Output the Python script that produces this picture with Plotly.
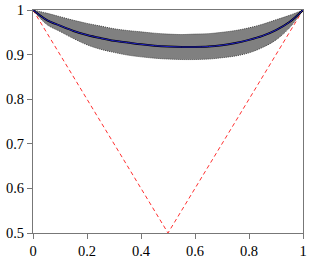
import plotly.graph_objects as go

x_vals = [0.0, 0.05, 0.1, 0.15, 0.2, 0.25, 0.3, 0.35, 0.4, 0.45, 0.5, 0.55, 0.6, 0.65, 0.7, 0.75, 0.8, 0.85, 0.9, 0.95, 1.0]
mean_vals = [1.0, 0.978, 0.965, 0.953, 0.944, 0.937, 0.931, 0.927, 0.923, 0.920, 0.918, 0.917, 0.917, 0.918, 0.921, 0.926, 0.933, 0.942, 0.955, 0.973, 1.0]
upper_vals = [1.0, 0.993, 0.985, 0.977, 0.970, 0.964, 0.958, 0.954, 0.951, 0.948, 0.946, 0.945, 0.946, 0.947, 0.950, 0.954, 0.960, 0.968, 0.978, 0.988, 1.0]
lower_vals = [1.0, 0.968, 0.952, 0.936, 0.922, 0.912, 0.905, 0.899, 0.895, 0.892, 0.890, 0.889, 0.889, 0.890, 0.893, 0.897, 0.904, 0.916, 0.933, 0.960, 1.0]
ref_x = [0.0, 0.5, 1.0]
ref_y = [1.0, 0.5, 1.0]
x_ticks = [0, 0.2, 0.4, 0.6, 0.8, 1]
y_ticks = [0.5, 0.6, 0.7, 0.8, 0.9, 1]

fig = go.Figure()
fig.add_trace(go.Scatter(x=x_vals, y=upper_vals, mode="lines", line_shape="spline",
                         line=dict(color="#444444", width=1, dash="1px,1px"), showlegend=False))
fig.add_trace(go.Scatter(x=x_vals, y=lower_vals, mode="lines", line_shape="spline", fill="tonexty",
                         fillcolor="#808080",
                         line=dict(color="#444444", width=1, dash="1px,1px"), showlegend=False))
fig.add_trace(go.Scatter(x=ref_x, y=ref_y, mode="lines",
                         line=dict(color="#ff3030", width=1, dash="4px,3px"), showlegend=False))
fig.add_trace(go.Scatter(x=x_vals, y=mean_vals, mode="lines", line_shape="spline",
                         line=dict(color="#000000", width=2), showlegend=False))
fig.add_trace(go.Scatter(x=x_vals, y=mean_vals, mode="lines", line_shape="spline",
                         line=dict(color="#2020c0", width=1), showlegend=False))

serif = "'Liberation Serif', 'Times New Roman', 'DejaVu Serif', serif"
axis_common = dict(showgrid=False, zeroline=False, showline=True, linecolor="#777777",
                   linewidth=1, mirror=True, ticks="outside", tickcolor="#777777",
                   ticklen=5, automargin=False,
                   tickfont=dict(family=serif, size=14.5, color="#000000"))
fig.update_xaxes(range=[0, 1], tickvals=x_ticks, ticktext=[str(v) for v in x_ticks], **axis_common)
fig.update_yaxes(range=[0.5, 1], tickvals=y_ticks, ticktext=[str(v) for v in y_ticks], **axis_common)
fig.update_layout(width=311, height=259, margin=dict(l=33, r=8, t=10, b=26),
                  plot_bgcolor="white", paper_bgcolor="white",
                  font=dict(family=serif))
fig.write_html("out.html", config={"displayModeBar": False},
               post_script="document.body.style.margin='0';document.body.style.overflow='hidden';")
